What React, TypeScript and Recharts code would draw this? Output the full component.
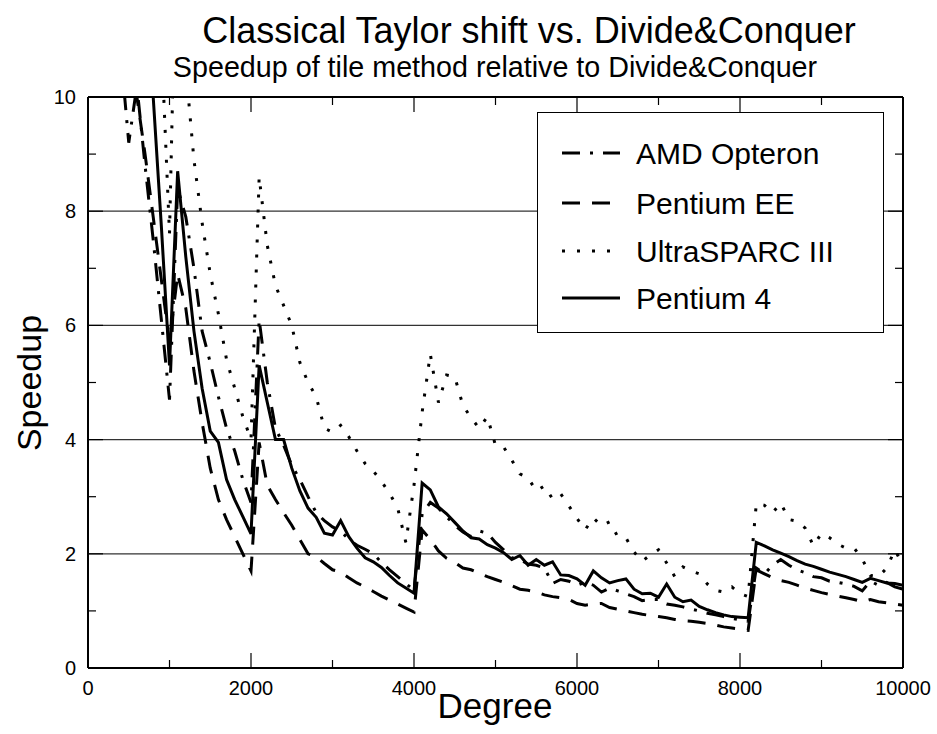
import React from 'react';
import { LineChart, Line, XAxis, YAxis, ReferenceLine, Legend } from 'recharts';

const FONT = '"Liberation Sans", Arial, Helvetica, sans-serif';

const degrees = [
  400, 500, 600, 700, 800, 900, 1000, 1100, 1200, 1300,
  1400, 1500, 1600, 1700, 1800, 1900, 2000, 2100, 2200, 2300,
  2400, 2500, 2600, 2700, 2800, 2900, 3000, 3100, 3200, 3300,
  3400, 3500, 3600, 3700, 3800, 3900, 4000, 4100, 4200, 4300,
  4400, 4500, 4600, 4700, 4800, 4900, 5000, 5100, 5200, 5300,
  5400, 5500, 5600, 5700, 5800, 5900, 6000, 6100, 6200, 6300,
  6400, 6500, 6600, 6700, 6800, 6900, 7000, 7100, 7200, 7300,
  7400, 7500, 7600, 7700, 7800, 7900, 8000, 8100, 8200, 8300,
  8400, 8500, 8600, 8700, 8800, 8900, 9000, 9100, 9200, 9300,
  9400, 9500, 9600, 9700, 9800, 9900, 10000,
];

const amdOpteron = [
  10.8, 9.2, 10.2, 8.8, 7.5, 6.1, 4.7, 8.4, 7.9, 7.0,
  5.9, 5.35, 4.75, 4.2, 3.8, 3.3, 2.9, 6.1, 5.0, 4.2,
  3.9, 3.55, 3.3, 3.0, 2.72, 2.58, 2.47, 2.4, 2.25, 2.15,
  2.08, 2.0, 1.85, 1.72, 1.6, 1.48, 1.36, 2.7, 2.9, 2.8,
  2.65, 2.5, 2.38, 2.3, 2.4, 2.36, 2.2, 2.07, 1.93, 1.9,
  1.82, 1.8, 1.75, 1.48, 1.55, 1.52, 1.45, 1.5, 1.45, 1.33,
  1.4, 1.35, 1.3, 1.25, 1.18, 1.2, 1.2, 1.12, 1.1, 1.07,
  1.03, 1.0, 0.96, 0.93, 0.9, 0.87, 0.84, 0.82, 1.75, 1.65,
  1.8, 1.9, 1.8, 1.72, 1.67, 1.6, 1.58, 1.52, 1.5, 1.47,
  1.43, 1.35, 1.52, 1.45, 1.5, 1.42, 1.38,
];

const pentiumEE = [
  null, 11.2, 10.0, 9.0, 7.9, 6.8, 5.7, 6.9, 6.3, 5.2,
  4.3, 3.5, 2.95, 2.6, 2.3, 2.0, 1.7, 3.95, 3.2, 2.95,
  2.72, 2.5, 2.25, 2.0, 1.95, 1.83, 1.72, 1.68, 1.58, 1.49,
  1.42, 1.34, 1.26, 1.19, 1.12, 1.05, 0.98, 2.42, 2.25, 2.05,
  1.92, 1.85, 1.75, 1.72, 1.66, 1.6, 1.55, 1.5, 1.44, 1.38,
  1.36, 1.33, 1.28, 1.25, 1.23, 1.2, 1.13, 1.1, 1.12, 1.13,
  1.06, 1.03, 1.0, 0.97, 0.94, 0.92, 0.9, 0.88, 0.85, 0.83,
  0.82, 0.8, 0.78, 0.75, 0.72, 0.7, 0.68, 0.66, 1.72, 1.65,
  1.58, 1.53, 1.5, 1.45, 1.4, 1.36, 1.32, 1.29, 1.26, 1.23,
  1.2, 1.16, 1.2, 1.16, 1.14, 1.12, 1.1,
];

const ultraSparc = [
  null, null, null, null, null, 11.0, 7.6, 14.0, 10.5, 8.9,
  7.8, 6.9, 6.2, 5.4, 4.9, 4.4, 4.0, 8.6, 7.4, 6.7,
  6.35, 6.0, 5.35, 5.0, 4.75, 4.2, 4.13, 4.25, 4.05, 3.8,
  3.58, 3.45, 3.27, 3.06, 2.8, 2.2, 3.2, 4.48, 5.5, 4.65,
  5.13, 5.1, 4.6, 4.38, 4.2, 4.4, 3.9, 3.87, 3.64, 3.4,
  3.33, 3.1, 3.19, 2.96, 3.05, 2.84, 2.62, 2.42, 2.63, 2.49,
  2.56, 2.3, 2.28, 2.03, 1.87, 1.98, 2.07, 1.84, 1.6, 1.77,
  1.7, 1.65, 1.47, 1.36, 1.33, 1.42, 1.3, 1.25, 2.88, 2.85,
  2.72, 2.89, 2.6, 2.57, 2.45, 2.14, 2.36, 2.28, 2.17, 2.1,
  2.1, 1.91, 1.62, 1.6, 1.75, 2.07, 1.8,
];

const pentium4 = [
  null, null, null, 12.5, 10.0, 7.74, 5.3, 8.7, 7.2, 5.9,
  4.9, 4.15, 3.95, 3.3, 2.95, 2.65, 2.35, 5.3, 4.65, 4.0,
  4.0, 3.5, 3.1, 2.8, 2.64, 2.36, 2.33, 2.58, 2.3, 2.1,
  1.93, 1.86, 1.76, 1.62, 1.49, 1.4, 1.31, 3.24, 3.12, 2.82,
  2.7, 2.55, 2.4, 2.28, 2.26, 2.16, 2.1, 2.02, 1.9, 1.97,
  1.8, 1.9, 1.8, 1.86, 1.63, 1.62, 1.56, 1.45, 1.7, 1.58,
  1.49, 1.53, 1.56, 1.38, 1.3, 1.31, 1.24, 1.47, 1.24, 1.16,
  1.19, 1.08, 1.02, 0.97, 0.93, 0.9, 0.89, 0.88, 2.2, 2.14,
  2.07, 2.01, 1.95, 1.88, 1.82, 1.78, 1.73, 1.68, 1.64, 1.6,
  1.55, 1.5, 1.57, 1.53, 1.49, 1.48, 1.45,
];

const xTicks = [0, 1000, 2000, 3000, 4000, 5000, 6000, 7000, 8000, 9000, 10000];
const xMajorTicks = [0, 2000, 4000, 6000, 8000, 10000];
const yTicks = [0, 1, 2, 3, 4, 5, 6, 7, 8, 9, 10];
const yMajorTicks = [0, 2, 4, 6, 8, 10];
const gridValues = [2, 4, 6, 8];

const seriesNames = ['AMD Opteron', 'Pentium EE', 'UltraSPARC III', 'Pentium 4'];
const seriesKeys = ['amd', 'ee', 'sparc', 'p4'];
const seriesDash = ['18 10 3 10', '18 12', '3 12', undefined];

const data = degrees.map((d, i) => ({
  degree: d,
  amd: amdOpteron[i],
  ee: pentiumEE[i],
  sparc: ultraSparc[i],
  p4: pentium4[i],
}));

const legendRowY = [40, 90, 138, 185];

const LegendBox = () => (
  <svg width={345} height={219} style={{ display: 'block' }}>
    {seriesNames.map((name, i) => (
      <g key={name}>
        <line x1={24} x2={82} y1={legendRowY[i]} y2={legendRowY[i]} stroke="#000" strokeWidth={3}
          strokeDasharray={seriesDash[i]} />
        <text x={98} y={legendRowY[i] + 10.5} fontSize={30} fontFamily={FONT} fill="#000">{name}</text>
      </g>
    ))}
  </svg>
);

const MAJOR = 15;
const MINOR = 8;

const makeTick = (side: string, majors: number[], showLabel: boolean) => (props: any) => {
  const { x, y, payload } = props;
  const v = payload.value;
  const major = majors.includes(v);
  const len = major ? MAJOR : MINOR;
  let line;
  if (side === 'bottom') line = <line x1={x} y1={y} x2={x} y2={y - len} stroke="#000" strokeWidth={1.2} />;
  else if (side === 'top') line = <line x1={x} y1={y} x2={x} y2={y + len} stroke="#000" strokeWidth={1.2} />;
  else if (side === 'left') line = <line x1={x} y1={y} x2={x + len} y2={y} stroke="#000" strokeWidth={1.2} />;
  else line = <line x1={x} y1={y} x2={x - len} y2={y} stroke="#000" strokeWidth={1.2} />;
  let label = null;
  if (showLabel && major) {
    if (side === 'bottom') {
      label = <text x={x} y={y + 27} textAnchor="middle" fontSize={20} fontFamily={FONT} fill="#000">{v}</text>;
    } else if (side === 'left') {
      label = <text x={x - 12} y={y + 7} textAnchor="end" fontSize={20} fontFamily={FONT} fill="#000">{v}</text>;
    }
  }
  return <g>{line}{label}</g>;
};

const axisLine = { stroke: '#000', strokeWidth: 2 };

export default function App() {
  return (
    <div style={{ position: 'absolute', left: 0, top: 0, width: 937, height: 734, background: '#fff' }}>
      <LineChart width={937} height={734} data={data}
        margin={{ top: 0, right: 0, bottom: 0, left: 0 }}>
        <XAxis xAxisId="b" orientation="bottom" dataKey="degree" type="number" domain={[0, 10000]} allowDataOverflow
          ticks={xTicks} interval={0} height={66} tickSize={0} tickMargin={0}
          axisLine={axisLine} tickLine={false} tick={makeTick('bottom', xMajorTicks, true)} />
        <XAxis xAxisId="t" orientation="top" dataKey="degree" type="number" domain={[0, 10000]} allowDataOverflow
          ticks={xTicks} interval={0} height={97} tickSize={0} tickMargin={0}
          axisLine={axisLine} tickLine={false} tick={makeTick('top', xMajorTicks, false)} />
        <YAxis yAxisId="l" orientation="left" type="number" domain={[0, 10]} allowDataOverflow
          ticks={yTicks} interval={0} width={88} tickSize={0} tickMargin={0}
          axisLine={axisLine} tickLine={false} tick={makeTick('left', yMajorTicks, true)} />
        <YAxis yAxisId="r" orientation="right" type="number" domain={[0, 10]} allowDataOverflow
          ticks={yTicks} interval={0} width={34} tickSize={0} tickMargin={0}
          axisLine={axisLine} tickLine={false} tick={makeTick('right', yMajorTicks, false)} />
        {gridValues.map((g) => (
          <ReferenceLine key={g} xAxisId="b" yAxisId="l" y={g} stroke="#333" strokeWidth={1.2} />
        ))}
        {seriesKeys.map((k, i) => (
          <Line key={k} xAxisId="b" yAxisId="l" type="linear" dataKey={k} name={seriesNames[i]}
            stroke="#000" strokeWidth={3} strokeDasharray={seriesDash[i]} dot={false}
            activeDot={false} isAnimationActive={false} connectNulls={false} />
        ))}
        <Legend layout="vertical" align="center" verticalAlign="middle"
          wrapperStyle={{ left: 537, top: 112, width: 347, height: 221, border: '1px solid #000', background: '#fff', boxSizing: 'border-box' }}
          content={() => <LegendBox />} />
      </LineChart>
      <svg width={937} height={734} style={{ position: 'absolute', left: 0, top: 0, pointerEvents: 'none' }}>
        <text x={529} y={43} textAnchor="middle" fontSize={36} fontFamily={FONT} fill="#000">
          Classical Taylor shift vs. Divide&amp;Conquer
        </text>
        <text x={495} y={77} textAnchor="middle" fontSize={28.7} fontFamily={FONT} fill="#000">
          Speedup of tile method relative to Divide&amp;Conquer
        </text>
        <text x={41} y={383} textAnchor="middle" fontSize={34} fontFamily={FONT} fill="#000"
          transform="rotate(-90 41 383)">Speedup</text>
        <text x={495} y={718} textAnchor="middle" fontSize={35} fontFamily={FONT} fill="#000">Degree</text>
      </svg>
    </div>
  );
}
